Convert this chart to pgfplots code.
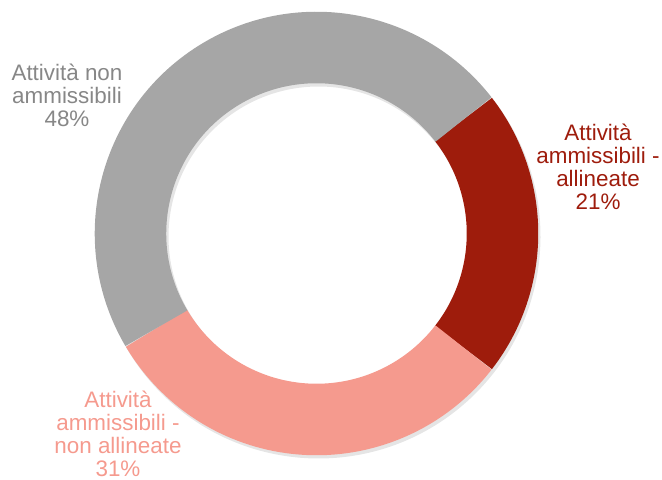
\documentclass[border=0pt]{standalone}
\usepackage{pgfplots}
\pgfplotsset{compat=1.18}
\usepackage{fontspec}
\setmainfont{Liberation Sans}
\definecolor{dred}{RGB}{158,28,12}
\definecolor{pinkc}{RGB}{245,154,142}
\definecolor{greyc}{RGB}{166,166,166}
\definecolor{greytext}{RGB}{135,135,135}
% shares (percent)
\def\valA{21}% ammissibili - allineate
\def\valB{31}% ammissibili - non allineate
\def\valC{48}% non ammissibili
\pgfmathsetmacro\aA{37.8}
\pgfmathsetmacro\aB{\aA-\valA*3.6}
\pgfmathsetmacro\aC{\aB-\valB*3.6}
\pgfmathsetmacro\aD{\aC-\valC*3.6}
\begin{document}
\begin{tikzpicture}
\begin{axis}[
  scale only axis, width=662bp, height=480bp,
  xmin=0, xmax=662, ymin=0, ymax=480,
  axis lines=none, clip=false,
]
% soft shadow
\draw[black!10, line width=72bp] (axis cs:318.5,243.5) ++(\aA:186bp) arc[start angle=\aA, end angle=\aD, radius=186bp];
\draw[dred, line width=71.5bp] (axis cs:316.5,246.5) ++(\aA:186bp) arc[start angle=\aA, end angle=\aB, radius=186bp];
\draw[pinkc, line width=71.5bp] (axis cs:316.5,246.5) ++(\aB:186bp) arc[start angle=\aB, end angle=\aC, radius=186bp];
\draw[greyc, line width=71.5bp] (axis cs:316.5,246.5) ++(\aC:186bp) arc[start angle=\aC, end angle=\aD, radius=186bp];
\node[align=center, text=greytext, inner sep=0pt, font=\fontsize{22.5}{23}\selectfont] at (axis cs:67,385) {Attività non\\ammissibili\\48\%};
\node[align=center, text=dred, inner sep=0pt, font=\fontsize{22.5}{23}\selectfont] at (axis cs:598,313) {Attività\\ammissibili -\\allineate\\21\%};
\node[align=center, text=pinkc, inner sep=0pt, font=\fontsize{22.5}{23}\selectfont] at (axis cs:118,46) {Attività\\ammissibili -\\non allineate\\31\%};
\end{axis}
\pgfresetboundingbox
\path[use as bounding box] (current axis.south west) rectangle (current axis.north east);
\end{tikzpicture}
\end{document}
